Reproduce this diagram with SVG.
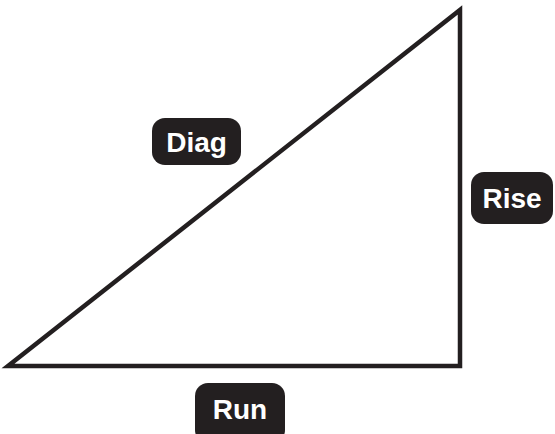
<svg xmlns="http://www.w3.org/2000/svg" width="555" height="434" viewBox="0 0 555 434">
<style>
.lbl{fill:#231f20}
.t{fill:#fff;font-family:"Liberation Sans",Arial,sans-serif;font-size:28px;font-weight:bold;text-anchor:middle}
.edge{fill:none;stroke:#231f20;stroke-width:4.5;stroke-linejoin:miter;stroke-miterlimit:10}
</style>
<rect width="555" height="434" fill="#fff"/>
<g id="connectors">
<polygon class="edge" points="8,366 460,366 460,10"/>
</g>
<g id="diag"><rect class="lbl" x="152" y="118" width="89" height="47" rx="13"/><text class="t" x="196.5" y="152">Diag</text></g>
<g id="rise"><rect class="lbl" x="471" y="172" width="82" height="52" rx="13"/><text class="t" x="512" y="208">Rise</text></g>
<g id="run"><rect class="lbl" x="195" y="383" width="90" height="60" rx="13"/><text class="t" x="240" y="419">Run</text></g>
</svg>
